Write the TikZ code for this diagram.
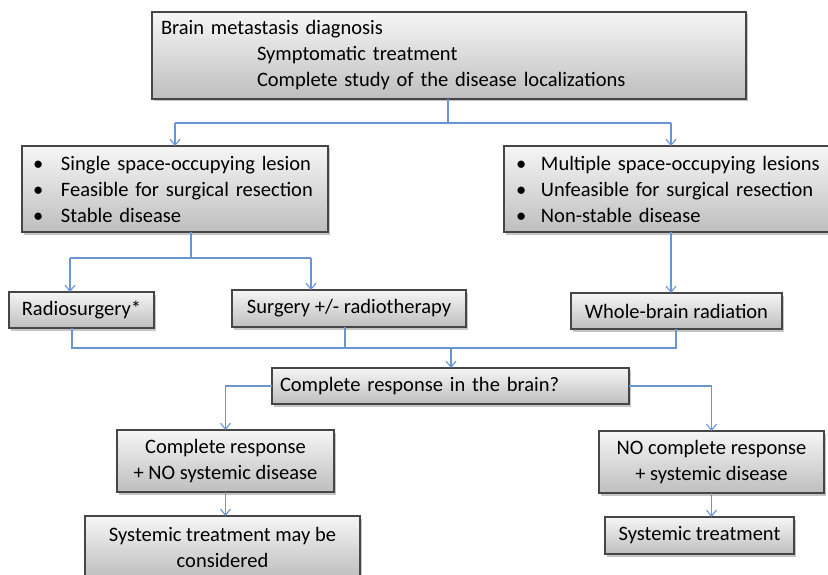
\documentclass[tikz,border=0pt]{standalone}
\usepackage{fontspec}
\setmainfont{Carlito}
\usetikzlibrary{arrows.meta,shadows}
\definecolor{lnblue}{RGB}{105,150,210}
\definecolor{bordergray}{RGB}{70,70,70}
\definecolor{topgray}{RGB}{246,246,246}
\definecolor{botgray}{RGB}{190,190,190}
\tikzset{
  box/.style={draw=bordergray, line width=1.1pt, top color=topgray, bottom color=botgray,
    drop shadow={shadow xshift=2pt, shadow yshift=-2.5pt, opacity=0.45},
    font=\fontsize{20.5}{26}\selectfont, inner sep=0pt, outer sep=0pt},
  conn/.style={draw=lnblue, line width=1.2pt},
  arr/.style={conn, -{Straight Barb[length=6pt,width=10pt,line width=1.1pt]}}
}
\newcommand{\bul}[1]{\makebox[28pt][l]{\textbullet}#1}
\begin{document}
\begin{tikzpicture}[x=1pt,y=-1pt]
\useasboundingbox[fill=white] (0,0) rectangle (828,575);
% boxes
\node[box, minimum width=594pt, minimum height=87pt, text width=576pt, align=left] (top) at (449,55.5)
  {Brain metastasis diagnosis\\ \hspace*{96pt}Symptomatic treatment\\ \hspace*{96pt}Complete study of the disease localizations};
\node[box, minimum width=306pt, minimum height=86pt, text width=284pt, align=left] (left) at (175,189)
  {\bul{Single space-occupying lesion}\\ \bul{Feasible for surgical resection}\\ \bul{Stable disease}};
\node[box, minimum width=336pt, minimum height=86pt, text width=312pt, align=left] (right) at (672,189)
  {\makebox[25pt][l]{\textbullet}Multiple space-occupying lesions\\ \makebox[25pt][l]{\textbullet}Unfeasible for surgical resection\\ \makebox[25pt][l]{\textbullet}Non-stable disease};
\node[box, minimum width=145pt, minimum height=36pt] (radio) at (81.5,310) {Radiosurgery*};
\node[box, minimum width=234pt, minimum height=37pt] (surg) at (349,308.5) {Surgery +/- radiotherapy};
\node[box, minimum width=211pt, minimum height=36pt] (whole) at (676.5,311) {Whole-brain radiation};
\node[box, minimum width=357pt, minimum height=36pt, text width=341pt, align=left] (cr) at (450.5,386) {Complete response in the brain?};
\node[box, minimum width=217pt, minimum height=62pt, align=center] (crl) at (225.5,461) {Complete response\\+ NO systemic disease};
\node[box, minimum width=225pt, minimum height=62pt, align=center] (crr) at (711.5,462) {NO complete response\\+ systemic disease};
\node[box, minimum width=275pt, minimum height=62pt, align=center] (sysl) at (222.5,547) {Systemic treatment may be\\considered};
\node[box, minimum width=189pt, minimum height=37pt] (sysr) at (699.5,535.5) {Systemic treatment};
% junctions
\coordinate (j1) at (448,123);
\coordinate (j1l) at (175,123);
\coordinate (j1r) at (671,123);
\coordinate (j2) at (191,258);
\coordinate (j2l) at (70,258);
\coordinate (j2r) at (311,258);
\coordinate (m1) at (72,348);
\coordinate (m2) at (345,348);
\coordinate (m3) at (676,348);
\coordinate (m0) at (451,348);
% connectors
\draw[conn] (top.south -| j1) -- (j1);
\draw[conn] (j1l) -- (j1r);
\draw[arr] (j1l) -- (j1l |- left.north);
\draw[arr] (j1r) -- (j1r |- right.north);
\draw[conn] (left.south -| j2) -- (j2);
\draw[conn] (j2l) -- (j2r);
\draw[arr] (j2l) -- (j2l |- radio.north);
\draw[arr] (j2r) -- (j2r |- surg.north);
\draw[arr] (right.south -| j1r) -- (j1r |- whole.north);
\draw[conn] (radio.south -| m1) -- (m1) -- (m3) -- (whole.south -| m3);
\draw[conn] (surg.south -| m2) -- (m2);
\draw[arr] (m0) -- (m0 |- cr.north);
\draw[arr] (cr.west) -| (crl.north);
\draw[arr] (cr.east) -| (crr.north);
\draw[arr] (crl.south) -- (crl.south |- sysl.north);
\draw[arr] (crr.south) -- (crr.south |- sysr.north);
\end{tikzpicture}
\end{document}
